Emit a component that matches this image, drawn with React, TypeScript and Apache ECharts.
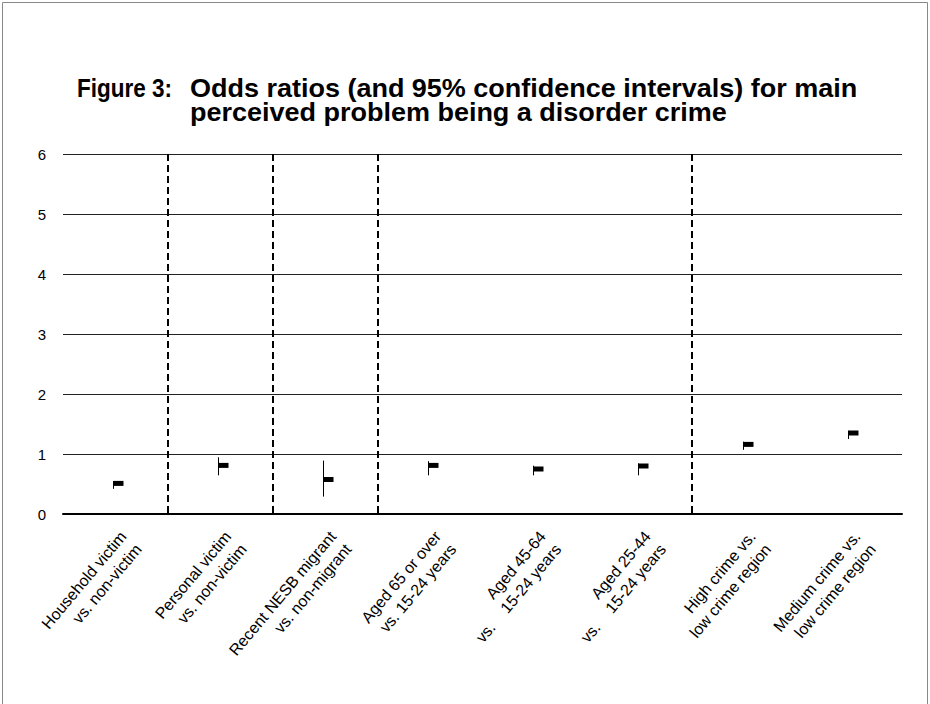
import React, { useEffect, useRef } from "react";
import * as echarts from "echarts";

const titleLead = "Figure 3:";
const titleLines = [
  "Odds ratios (and 95% confidence intervals) for main",
  "perceived problem being a disorder crime",
];

const categories = [
  "Household victim\nvs. non-victim",
  "Personal victim\nvs. non-victim",
  "Recent NESB migrant\nvs. non-migrant",
  "Aged 65 or over\nvs. 15-24 years",
  "Aged 45-64\nvs.    15-24 years",
  "Aged 25-44\nvs.    15-24 years",
  "High crime vs.\nlow crime region",
  "Medium crime vs.\nlow crime region",
];
const oddsRatio = [0.51, 0.81, 0.575, 0.81, 0.75, 0.8, 1.16, 1.35];
const ciLow = [0.42, 0.645, 0.29, 0.645, 0.645, 0.645, 1.07, 1.25];
const ciHigh = [0.55, 0.945, 0.89, 0.88, 0.805, 0.845, 1.205, 1.39];
const groupBreaks = [1, 2, 3, 6];
const yMin = 0;
const yMax = 6;

const SANS = '"Liberation Sans", Arial, sans-serif';

export default function App() {
  const ref = useRef<HTMLDivElement>(null);
  useEffect(() => {
    if (!ref.current) return;
    const chart = echarts.init(ref.current, null, { renderer: "svg" });
    const data = categories.map((_, i) => [i, oddsRatio[i], ciLow[i], ciHigh[i]]);
    const titleFont = `bold 25px ${SANS}`;
    chart.setOption({
      animation: false,
      backgroundColor: "#fff",
      graphic: [
        {
          type: "rect",
          shape: { x: 2.5, y: 2.5, width: 925, height: 720 },
          style: { fill: "none", stroke: "#888", lineWidth: 1 },
          silent: true,
        },
        {
          type: "text",
          x: 77,
          y: 88,
          scaleX: 0.9,
          style: { text: titleLead, font: titleFont, fill: "#000", textVerticalAlign: "middle" },
        },
        {
          type: "text",
          x: 190,
          y: 88,
          scaleX: 1.08,
          style: { text: titleLines[0], font: titleFont, fill: "#000", textVerticalAlign: "middle" },
        },
        {
          type: "text",
          x: 190,
          y: 112,
          scaleX: 1.08,
          style: { text: titleLines[1], font: titleFont, fill: "#000", textVerticalAlign: "middle" },
        },
      ],
      grid: { left: 63, right: 28, top: 154, bottom: 190, containLabel: false },
      xAxis: {
        type: "category",
        data: categories,
        boundaryGap: true,
        axisLine: { show: true, onZero: false, lineStyle: { color: "#000", width: 2 } },
        axisTick: { show: false },
        splitLine: { show: false },
        axisLabel: {
          interval: 0,
          rotate: 50,
          margin: 13,
          align: "right",
          verticalAlign: "top",
          color: "#000",
          fontFamily: SANS,
          fontSize: 16,
          lineHeight: 20,
        },
      },
      yAxis: {
        type: "value",
        min: yMin,
        max: yMax,
        interval: 1,
        axisLine: { show: false },
        axisTick: { show: false },
        axisLabel: { margin: 17, color: "#000", fontFamily: SANS, fontSize: 15 },
        splitLine: { show: true, lineStyle: { color: "#222", width: 1 } },
      },
      series: [
        {
          type: "custom",
          data: groupBreaks.map((b) => [b]),
          encode: { x: 0 },
          silent: true,
          renderItem: (params: any, api: any) => {
            const band = api.size([1, 0])[0];
            const c = api.coord([api.value(0), yMax]);
            const b = api.coord([api.value(0), yMin]);
            const x = Math.round(c[0] - band / 2);
            return {
              type: "line",
              shape: { x1: x, y1: c[1], x2: x, y2: b[1] },
              style: { stroke: "#000", lineWidth: 2, lineDash: [7, 4] },
            };
          },
        },
        {
          type: "custom",
          data,
          encode: { x: 0, y: [1, 2, 3] },
          renderItem: (params: any, api: any) => {
            const x = api.value(0);
            const pc = api.coord([x, api.value(1)]);
            const pl = api.coord([x, api.value(2)]);
            const ph = api.coord([x, api.value(3)]);
            const cx = Math.round(pc[0] - 2) + 0.5;
            return {
              type: "group",
              children: [
                {
                  type: "line",
                  shape: { x1: cx, y1: ph[1], x2: cx, y2: pl[1] },
                  style: { stroke: "#000", lineWidth: 1 },
                },
                {
                  type: "rect",
                  shape: { x: cx, y: pc[1] - 2.5, width: 10, height: 5 },
                  style: { fill: "#000" },
                },
              ],
            };
          },
        },
      ],
    });
    return () => chart.dispose();
  }, []);
  return (
    <div
      ref={ref}
      style={{ position: "fixed", left: 0, top: 0, width: 930, height: 704, background: "#fff" }}
    />
  );
}
